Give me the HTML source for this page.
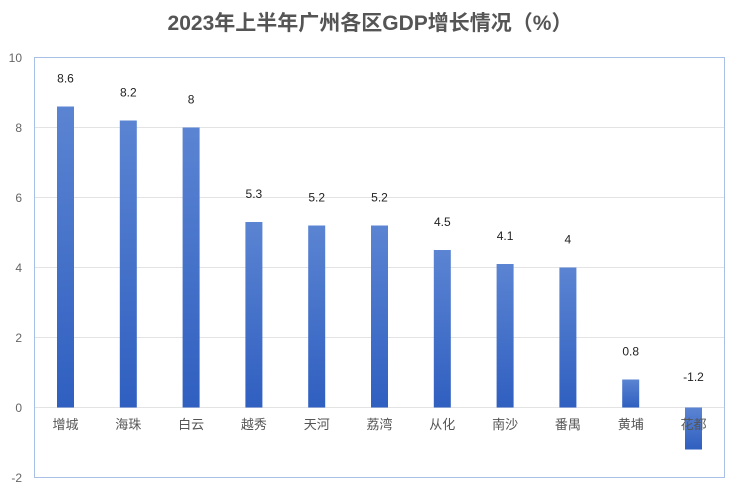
<!DOCTYPE html>
<html><head><meta charset="utf-8"><style>body{margin:0;background:#fff}</style></head><body>
<svg width="740" height="493" xmlns="http://www.w3.org/2000/svg" font-family="Liberation Sans, Noto Sans CJK SC, sans-serif">
<defs><linearGradient id="g" x1="0" y1="0" x2="0" y2="1"><stop offset="0" stop-color="#5b84d2"/><stop offset="1" stop-color="#2f5fc0"/></linearGradient></defs>
<text x="370" y="30" text-anchor="middle" font-size="21" font-weight="bold" fill="#555">2023年上半年广州各区GDP增长情况（%）</text>
<g stroke="#e3e3e3" stroke-width="1">
<line x1="34" x2="725" y1="127.5" y2="127.5"/><line x1="34" x2="725" y1="197.5" y2="197.5"/><line x1="34" x2="725" y1="267.5" y2="267.5"/><line x1="34" x2="725" y1="337.5" y2="337.5"/><line x1="34" x2="725" y1="407.5" y2="407.5"/>
</g>
<rect x="34.5" y="57.5" width="690" height="420" fill="none" stroke="#a9c0e6" stroke-width="1"/>
<g font-size="12" fill="#666" text-anchor="end">
<text x="22" y="62">10</text><text x="22" y="132">8</text><text x="22" y="202">6</text><text x="22" y="272">4</text><text x="22" y="342">2</text><text x="22" y="412">0</text><text x="22" y="482">-2</text>
</g>
<g id="bars"></g>
</svg>
<script>
var d=[["增城",8.6],["海珠",8.2],["白云",8],["越秀",5.3],["天河",5.2],["荔湾",5.2],["从化",4.5],["南沙",4.1],["番禺",4],["黄埔",0.8],["花都",-1.2]];
var g=document.getElementById('bars'),s='';
d.forEach(function(e,i){var c=65.5+62.8*i,v=e[1],y0=407.5,y=y0-v*35;
var top=Math.min(y,y0),h=Math.abs(v*35);
s+='<rect x="'+(c-8.5)+'" y="'+top+'" width="17" height="'+h+'" fill="url(#g)"/>';
s+='<text x="'+c+'" y="429" font-size="13" fill="#555" text-anchor="middle">'+e[0]+'</text>';
s+='<text x="'+c+'" y="'+(v>0?y-24:381)+'" font-size="12" fill="#222" text-anchor="middle">'+v+'</text>';});
g.innerHTML=s;
</script>
</body></html>
